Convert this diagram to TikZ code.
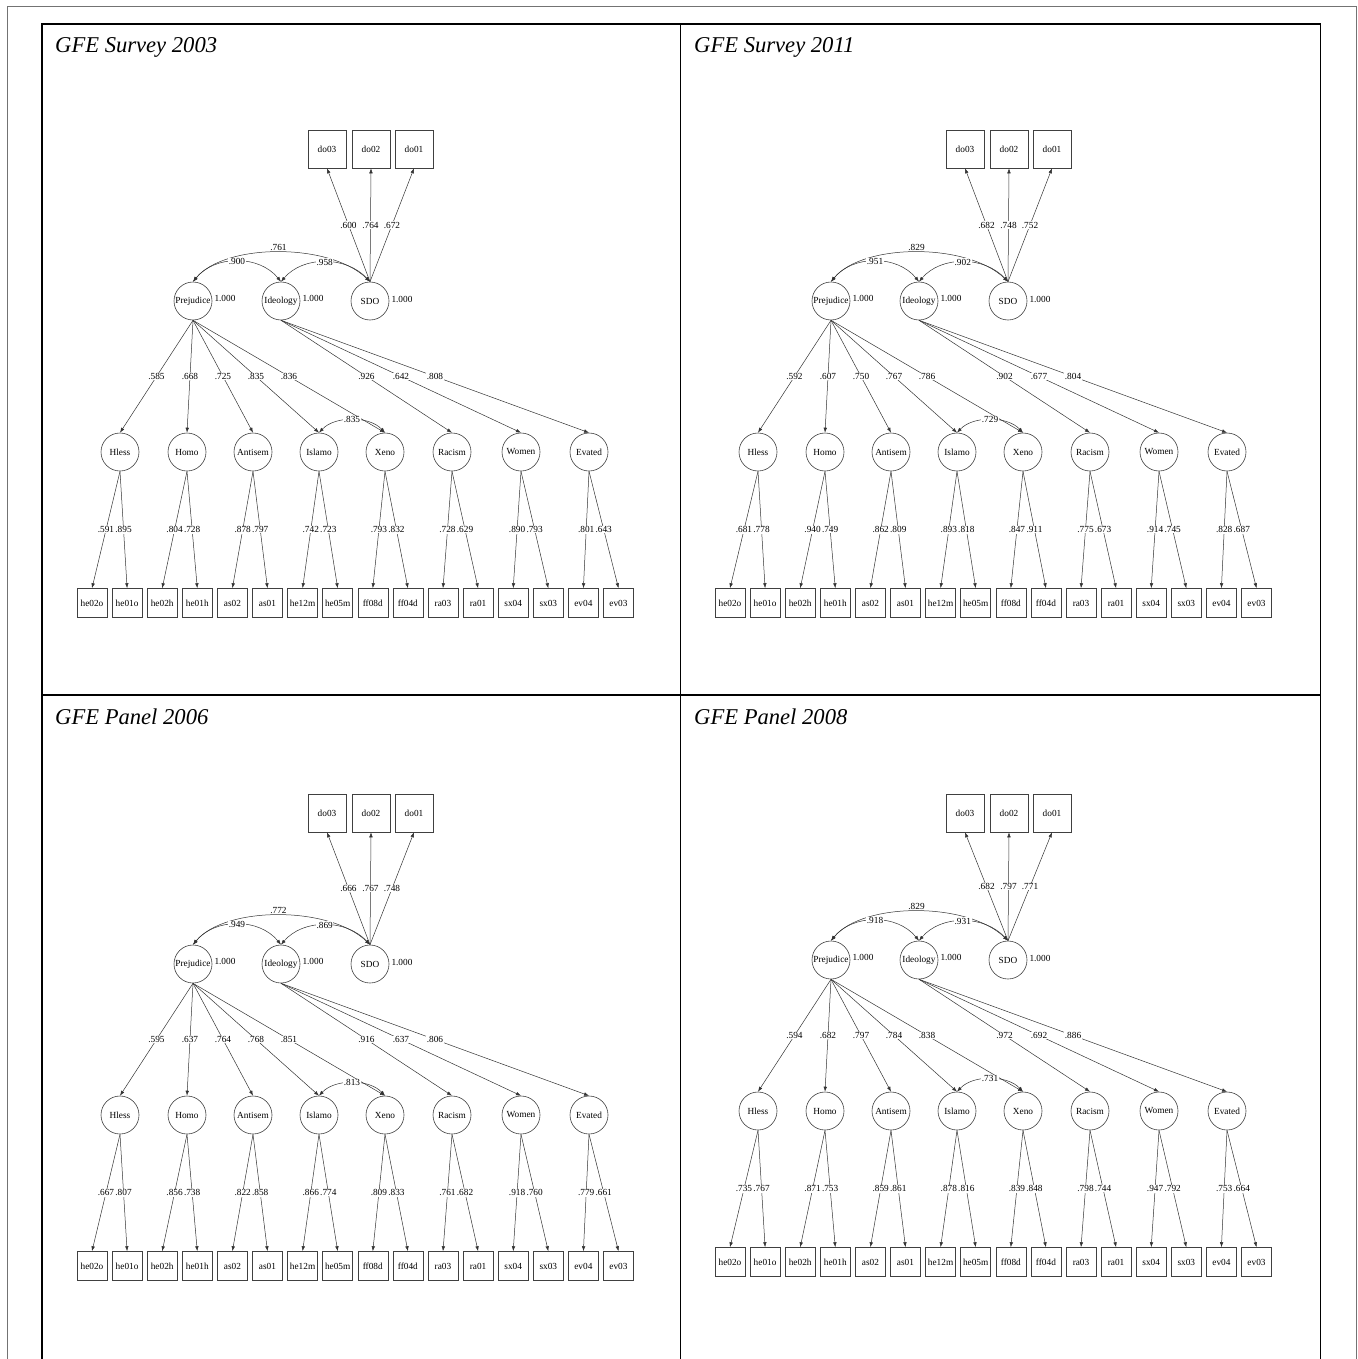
\documentclass[tikz,border=0pt]{standalone}
\usepackage{fontspec}
\setmainfont{Liberation Serif}
\usetikzlibrary{arrows.meta}
\newcommand\semfs{\fontsize{9.3}{11}\selectfont}
\tikzset{
  lat/.style={circle,draw=black!75,line width=0.6pt,minimum size=38pt,inner sep=0pt,font=\semfs},
  obsbig/.style={rectangle,draw=black!75,line width=0.6pt,minimum width=38pt,minimum height=38pt,inner sep=0pt,font=\semfs},
  ind/.style={rectangle,draw=black!75,line width=0.6pt,minimum width=30pt,minimum height=29pt,inner sep=0pt,font=\semfs},
  ld/.style={draw=black!80,line width=0.5pt,-{Latex[length=5pt,width=3.6pt]}},
  cov/.style={draw=black!80,line width=0.5pt,{Latex[length=5pt,width=3.6pt]}-{Latex[length=5pt,width=3.6pt]}},
  val/.style={font=\semfs,fill=white,inner sep=0.6pt},
  vartxt/.style={font=\semfs,inner sep=0pt,anchor=west},
  ttl/.style={font=\fontsize{22.6}{26}\selectfont\itshape,anchor=base west,inner sep=0pt},
}
\def\settop#1#2#3#4#5#6{\def\Ta{#1}\def\Tb{#2}\def\Tc{#3}\def\Td{#4}\def\Te{#5}\def\Tf{#6}}
\newcommand\getlat[1]{\ifcase#1\relax\or
 \def\LX{120}\def\LN{Hless}\def\LA{he02o}\def\LB{he01o}\def\LS{Prej}\or
 \def\LX{187}\def\LN{Homo}\def\LA{he02h}\def\LB{he01h}\def\LS{Prej}\or
 \def\LX{253}\def\LN{Antisem}\def\LA{as02}\def\LB{as01}\def\LS{Prej}\or
 \def\LX{319}\def\LN{Islamo}\def\LA{he12m}\def\LB{he05m}\def\LS{Prej}\or
 \def\LX{385}\def\LN{Xeno}\def\LA{ff08d}\def\LB{ff04d}\def\LS{Prej}\or
 \def\LX{452}\def\LN{Racism}\def\LA{ra03}\def\LB{ra01}\def\LS{Ideo}\or
 \def\LX{521}\def\LN{Women}\def\LA{sx04}\def\LB{sx03}\def\LS{Ideo}\or
 \def\LX{589}\def\LN{Evated}\def\LA{ev04}\def\LB{ev03}\def\LS{Ideo}\fi}
% #1 prefix, #2 dx, #3 dy, #4 top values, #5 latent values, #6 Islamo-Xeno cov, #7 extra dy of do boxes
\newcommand\sempanel[7]{%
\begin{scope}[shift={(#2,#3)}]
\settop#4
\node[lat] (#1-Prej) at (193,301) {Prejudice};
\node[lat] (#1-Ideo) at (281,301) {Ideology};
\node[lat] (#1-SDO) at (370,301) {SDO};
\node[vartxt] (#1-vP) at ([xshift=2pt,yshift=3pt]#1-Prej.east) {1.000};
\node[vartxt] (#1-vI) at ([xshift=2pt,yshift=3pt]#1-Ideo.east) {1.000};
\node[vartxt] (#1-vS) at ([xshift=2pt,yshift=2pt]#1-SDO.east) {1.000};
\node[obsbig] (#1-do03) at (327,{149+#7}) {do03};
\node[obsbig] (#1-do02) at (371,{149+#7}) {do02};
\node[obsbig] (#1-do01) at (414,{149+#7}) {do01};
\draw[ld] (#1-SDO.north) -- node[val]{\Ta} (#1-do03.south);
\draw[ld] (#1-SDO.north) -- node[val]{\Tb} (#1-do02.south);
\draw[ld] (#1-SDO.north) -- node[val]{\Tc} (#1-do01.south);
\draw[cov] (#1-Prej.north) .. controls ([xshift=32pt,yshift=39pt]#1-Prej.north) and ([xshift=-40pt,yshift=39pt]#1-SDO.north) .. node[val,fill=none,anchor=south,inner sep=1.5pt]{\Td} (#1-SDO.north);
\draw[cov] (#1-Prej.north) .. controls ([xshift=22pt,yshift=27pt]#1-Prej.north) and ([xshift=-22pt,yshift=27pt]#1-Ideo.north) .. node[val]{\Te} (#1-Ideo.north);
\draw[cov] (#1-Ideo.north) .. controls ([xshift=22pt,yshift=26pt]#1-Ideo.north) and ([xshift=-24pt,yshift=26pt]#1-SDO.north) .. node[val]{\Tf} (#1-SDO.north);
\foreach \vL/\vA/\vB [count=\i] in {#5} {
  \getlat{\i}
  \node[lat] (#1-\LN) at (\LX,452) {\LN};
  \node[ind] (#1-\LA) at ({92+35.1*(2*\i-2)},603) {\LA};
  \node[ind] (#1-\LB) at ({127.1+35.1*(2*\i-2)},603) {\LB};
  \draw[ld] (#1-\LS.south) -- node[val]{\vL} (#1-\LN.north);
  \draw[ld] (#1-\LN.south) -- node[val]{\vA} (#1-\LA.north);
  \draw[ld] (#1-\LN.south) -- node[val]{\vB} (#1-\LB.north);
}
\draw[cov] (#1-Islamo.north) .. controls ([xshift=16pt,yshift=17pt]#1-Islamo.north) and ([xshift=-16pt,yshift=17pt]#1-Xeno.north) .. node[val]{#6} (#1-Xeno.north);
\end{scope}}
\begin{document}
\begin{tikzpicture}[x=1pt,y=-1pt]
\useasboundingbox (0,0) rectangle (1357,1359);
% frames
\draw[black!55,line width=0.8pt] (7,1359) -- (7,6) -- (1356,6) -- (1356,1359);
\draw[black,line width=1.7pt] (42,1359) -- (42,24) -- (1320.5,24) -- (1320.5,1359);
\draw[black,line width=1.7pt] (680.5,24) -- (680.5,1359);
\draw[black,line width=1.7pt] (42,695) -- (1320.5,695);
% titles
\node[ttl] (t2003) at (55,53) {GFE Survey 2003};
\node[ttl] (t2011) at (694,53) {GFE Survey 2011};
\node[ttl] (t2006) at (55,724) {GFE Panel 2006};
\node[ttl] (t2008) at (694,724) {GFE Panel 2008};
% panels
\sempanel{A}{0}{0}{{.600}{.764}{.672}{.761}{.900}{.958}}%
 {.585/.591/.895, .668/.804/.728, .725/.878/.797, .835/.742/.723, .836/.793/.832, .926/.728/.629, .642/.890/.793, .808/.801/.643}{.835}{0}
\sempanel{B}{638}{0}{{.682}{.748}{.752}{.829}{.951}{.902}}%
 {.592/.681/.778, .607/.940/.749, .750/.862/.809, .767/.893/.818, .786/.847/.911, .902/.775/.673, .677/.914/.745, .804/.828/.687}{.729}{0}
\sempanel{C}{0}{663}{{.666}{.767}{.748}{.772}{.949}{.869}}%
 {.595/.667/.807, .637/.856/.738, .764/.822/.858, .768/.866/.774, .851/.809/.833, .916/.761/.682, .637/.918/.760, .806/.779/.661}{.813}{1}
\sempanel{D}{638}{659}{{.682}{.797}{.771}{.829}{.918}{.931}}%
 {.594/.735/.767, .682/.871/.753, .797/.859/.861, .784/.878/.816, .838/.839/.848, .972/.798/.744, .692/.947/.792, .886/.753/.664}{.731}{5}
\end{tikzpicture}
\end{document}
